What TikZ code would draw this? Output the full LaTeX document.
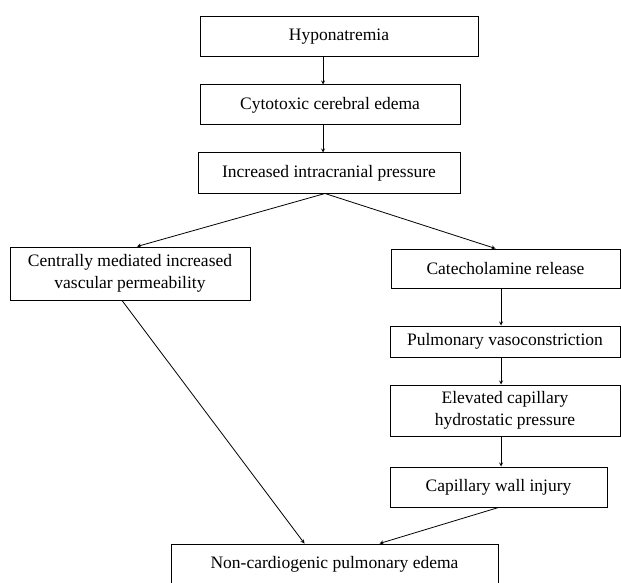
\documentclass[tikz,border=0pt]{standalone}
\usepackage{fontspec}
\setmainfont{Liberation Serif}
\usepackage{tikz}
\usetikzlibrary{arrows}
\tikzstyle{flow} = [line width=0.8pt,->,>=stealth]
\tikzstyle{stage} = [draw,line width=1pt,align=center,inner sep=2pt,
	font=\fontsize{17.5}{22}\selectfont]

\begin{document}
\begin{tikzpicture}[x=1pt,y=-1pt]
	\useasboundingbox (0,0) rectangle (621,583);
	% centre column
	\coordinate (stem) at (323,0);
	\coordinate (rstem) at (501,0);
	\node[stage,minimum width=278pt,minimum height=40pt] (hypo) at (339,37) {Hyponatremia};
	\node[stage,minimum width=260pt,minimum height=40pt] (cyto) at (330,105) {Cytotoxic cerebral edema};
	\node[stage,minimum width=262pt,minimum height=40pt] (icp) at (329,173) {Increased intracranial pressure};
	% left branch
	\node[stage,minimum width=240pt,minimum height=53pt] (central) at (130,273.5)
		{Centrally mediated increased\\vascular permeability};
	% right branch
	\node[stage,minimum width=229pt,minimum height=39pt] (catech) at (505.5,268.5) {Catecholamine release};
	\node[stage,minimum width=230pt,minimum height=31pt] (vaso) at (505,341.5) {Pulmonary vasoconstriction};
	\node[stage,minimum width=230pt,minimum height=51pt] (hydro) at (505,410.5)
		{Elevated capillary\\hydrostatic pressure};
	\node[stage,minimum width=217pt,minimum height=40pt] (wall) at (498.5,487) {Capillary wall injury};
	% outcome
	\node[stage,minimum width=327pt,minimum height=41pt] (edema) at (334.5,564.5)
		{Non-cardiogenic pulmonary edema};

	\draw[flow] (hypo.south -| stem) -- (cyto.north -| stem);
	\draw[flow] (cyto.south -| stem) -- (icp.north -| stem);
	\draw[flow] ([xshift=-4pt]icp.south) -- ([xshift=7pt]central.north);
	\draw[flow] ([xshift=-4pt]icp.south) -- ([xshift=-10pt]catech.north);
	\draw[flow] (catech.south -| rstem) -- (vaso.north -| rstem);
	\draw[flow] (vaso.south -| rstem) -- (hydro.north -| rstem);
	\draw[flow] (hydro.south -| rstem) -- (wall.north -| rstem);
	\draw[flow] ([xshift=-8pt]central.south) -- ([xshift=-30pt]edema.north);
	\draw[flow] (wall.south) -- ([xshift=45pt]edema.north);
\end{tikzpicture}
\end{document}
